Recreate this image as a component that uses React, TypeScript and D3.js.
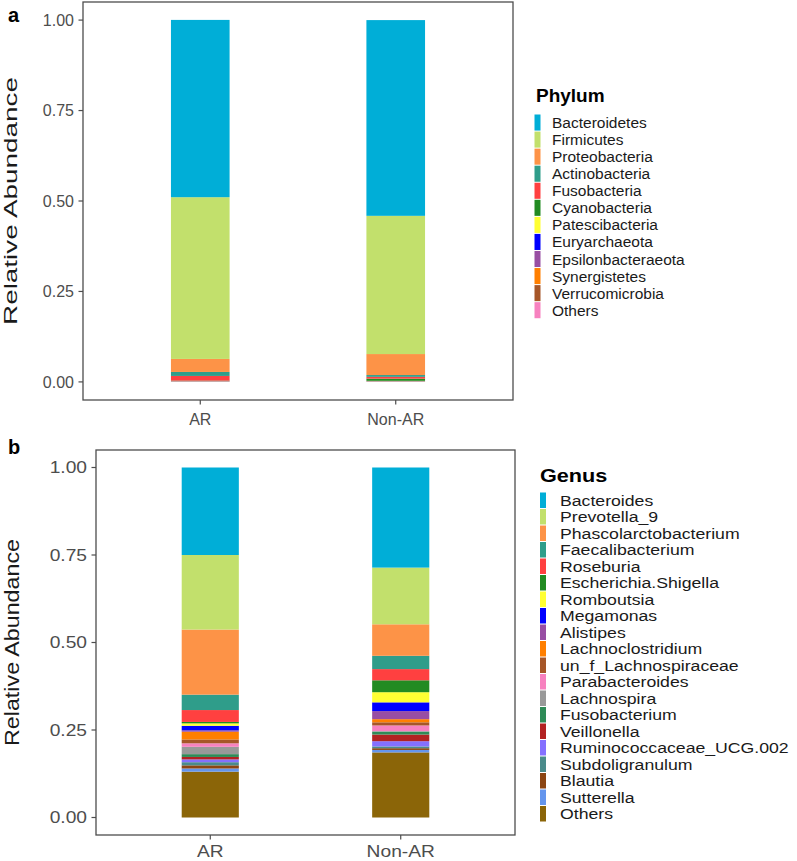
import React from "react";
import * as d3 from "d3";

const groups = ["AR", "Non-AR"];
const yTicks = [0, 0.25, 0.5, 0.75, 1];

const phylumNames = [
  "Bacteroidetes",
  "Firmicutes",
  "Proteobacteria",
  "Actinobacteria",
  "Fusobacteria",
  "Cyanobacteria",
  "Patescibacteria",
  "Euryarchaeota",
  "Epsilonbacteraeota",
  "Synergistetes",
  "Verrucomicrobia",
  "Others",
];
const phylumColors = [
  "#00aed7", "#c2e06c", "#fd9347", "#2f9d8a", "#ff4040", "#228b22",
  "#ffff33", "#0000ff", "#984ea3", "#ff7f00", "#a65628", "#f781bf",
];
const phylumAR = [0.49, 0.447, 0.036, 0.011, 0.013, 0.001, 0.0005, 0.0005, 0.0005, 0.0005, 0.0003, 0.0002];
const phylumNonAR = [0.541, 0.382, 0.058, 0.005, 0.005, 0.006, 0.001, 0.0005, 0.0005, 0.0005, 0.0003, 0.0002];

const genusNames = [
  "Bacteroides",
  "Prevotella_9",
  "Phascolarctobacterium",
  "Faecalibacterium",
  "Roseburia",
  "Escherichia.Shigella",
  "Romboutsia",
  "Megamonas",
  "Alistipes",
  "Lachnoclostridium",
  "un_f_Lachnospiraceae",
  "Parabacteroides",
  "Lachnospira",
  "Fusobacterium",
  "Veillonella",
  "Ruminococcaceae_UCG.002",
  "Subdoligranulum",
  "Blautia",
  "Sutterella",
  "Others",
];
const genusColors = [
  "#00aed7", "#c2e06c", "#fd9347", "#2f9d8a", "#ff4040", "#228b22",
  "#ffff33", "#0000ff", "#984ea3", "#ff7f00", "#a65628", "#f781bf",
  "#999999", "#2e8b57", "#b22222", "#8470ff", "#4a8b8b", "#8b4513",
  "#6495ed", "#8b6508",
];
const genusAR = [
  0.25, 0.213, 0.186, 0.044, 0.034, 0.004, 0.007, 0.013, 0.004, 0.022,
  0.011, 0.01, 0.021, 0.008, 0.007, 0.008, 0.009, 0.009, 0.009, 0.131,
];
const genusNonAR = [
  0.286, 0.162, 0.09, 0.038, 0.032, 0.034, 0.029, 0.025, 0.023, 0.009,
  0.009, 0.016, 0.002, 0.008, 0.019, 0.015, 0.005, 0.005, 0.007, 0.186,
];

const FONT = "'Liberation Sans', Arial, sans-serif";

type PanelProps = {
  letter: string;
  legendTitle: string;
  names: string[];
  colors: string[];
  values: number[][];
  box: { x0: number; x1: number; y0: number; y1: number };
  sx: number; // horizontal stretch of the axis text
  lsx: number; // horizontal stretch of the legend text
  tickFont: number;
  xLabelGap: number;
  yTitleFont: number;
  yTitleLength: number;
  yTitleX: number;
  letterY: number;
  legend: { titleX: number; titleY: number; keyX: number; keyY: number; step: number; textX: number; titleFont: number };
};

function T({ x, y, sx, anchor = "start", size, weight = "normal", fill = "#1a1a1a", children }: any) {
  return (
    <text
      transform={`translate(${x},${y}) scale(${sx},1)`}
      textAnchor={anchor}
      fontSize={size}
      fontWeight={weight}
      fill={fill}
      fontFamily={FONT}
    >
      {children}
    </text>
  );
}

function Panel(p: PanelProps) {
  const { box, sx } = p;
  const x = d3.scalePoint<string>().domain(groups).range([box.x0, box.x1]).padding(0.6);
  const barW = x.step() * 0.3;
  const y = d3.scaleLinear().domain([-0.05, 1.05]).range([box.y1, box.y0]);

  const rows = groups.map((g, gi) => {
    const r: Record<string, number | string> = { group: g };
    p.names.forEach((n, i) => (r[n] = p.values[gi][i]));
    return r;
  });
  // first level sits on top, as in ggplot
  const series = d3.stack<any>().keys([...p.names].reverse())(rows);
  const color = d3.scaleOrdinal<string, string>().domain(p.names).range(p.colors);

  return (
    <g>
      <T x={8} y={p.letterY} sx={1} size={20} weight="bold" fill="#000">
        {p.letter}
      </T>
      {series.map((s) => (
        <g key={s.key} fill={color(s.key)}>
          {s.map((d, i) => (
            <rect
              key={i}
              x={(x(groups[i]) ?? 0) - barW / 2}
              y={y(d[1])}
              width={barW}
              height={Math.max(0, y(d[0]) - y(d[1]))}
            />
          ))}
        </g>
      ))}
      <rect
        x={box.x0}
        y={box.y0}
        width={box.x1 - box.x0}
        height={box.y1 - box.y0}
        fill="none"
        stroke="#4d4d4d"
        strokeWidth={1.3}
      />
      {yTicks.map((t) => (
        <g key={t}>
          <line x1={box.x0 - 4.5} x2={box.x0} y1={y(t)} y2={y(t)} stroke="#4d4d4d" strokeWidth={1.2} />
          <T x={box.x0 - 9} y={y(t) + p.tickFont * 0.36} sx={sx} anchor="end" size={p.tickFont} fill="#4d4d4d">
            {t.toFixed(2)}
          </T>
        </g>
      ))}
      {groups.map((g) => (
        <g key={g}>
          <line x1={x(g)} x2={x(g)} y1={box.y1} y2={box.y1 + 4.5} stroke="#4d4d4d" strokeWidth={1.2} />
          <T x={x(g)} y={box.y1 + p.xLabelGap} sx={sx} anchor="middle" size={p.tickFont} fill="#4d4d4d">
            {g}
          </T>
        </g>
      ))}
      <text
        transform={`translate(${p.yTitleX},${y(0.5)}) rotate(-90)`}
        textAnchor="middle"
        fontSize={p.yTitleFont}
        fontFamily={FONT}
        fill="#1a1a1a"
        textLength={p.yTitleLength}
        lengthAdjust="spacingAndGlyphs"
      >
        Relative Abundance
      </text>
      <T x={p.legend.titleX} y={p.legend.titleY} sx={p.lsx} size={p.legend.titleFont} weight="bold" fill="#000">
        {p.legendTitle}
      </T>
      {p.names.map((n, i) => {
        const top = p.legend.keyY + i * p.legend.step;
        return (
          <g key={n}>
            <rect x={p.legend.keyX} y={top + 0.5} width={6} height={p.legend.step - 1} fill={color(n)} />
            <T x={p.legend.textX} y={top + p.legend.step / 2 + 5.5} sx={p.lsx} size={15.5}>
              {n}
            </T>
          </g>
        );
      })}
    </g>
  );
}

export default function App() {
  return (
    <svg
      width={797}
      height={861}
      viewBox="0 0 797 861"
      style={{ position: "absolute", left: 0, top: 0, background: "#fff" }}
    >
      <rect width={797} height={861} fill="#fff" />
      <Panel
        letter="a"
        legendTitle="Phylum"
        names={phylumNames}
        colors={phylumColors}
        values={[phylumAR, phylumNonAR]}
        box={{ x0: 83, x1: 513, y0: 2, y1: 400 }}
        sx={1}
        lsx={1}
        tickFont={16}
        xLabelGap={25}
        yTitleFont={19}
        yTitleLength={248}
        yTitleX={17}
        letterY={22}
        legend={{ titleX: 536, titleY: 102, keyX: 534.5, keyY: 114, step: 17.06, textX: 552, titleFont: 19 }}
      />
      <Panel
        letter="b"
        legendTitle="Genus"
        names={genusNames}
        colors={genusColors}
        values={[genusAR, genusNonAR]}
        box={{ x0: 96, x1: 515, y0: 450, y1: 835 }}
        sx={1.2}
        lsx={1.14}
        tickFont={16}
        xLabelGap={22}
        yTitleFont={21}
        yTitleLength={207}
        yTitleX={19}
        letterY={454}
        legend={{ titleX: 540, titleY: 482, keyX: 540, keyY: 492, step: 16.5, textX: 560, titleFont: 19 }}
      />
    </svg>
  );
}
